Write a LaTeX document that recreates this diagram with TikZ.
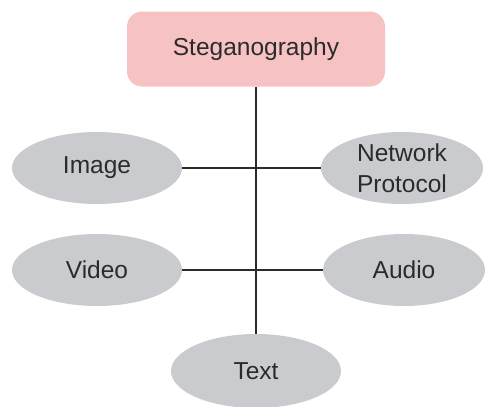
\documentclass[tikz,border=0pt]{standalone}
\usepackage{fontspec}
\setmainfont{Liberation Sans}
\usetikzlibrary{shapes.geometric}
\definecolor{stegpink}{HTML}{F7C2C3}
\definecolor{mediagrey}{HTML}{C9CBCE}
\definecolor{inkgrey}{HTML}{2B2B2B}
\begin{document}
\begin{tikzpicture}[x=1pt, y=-1pt, every node/.style={font=\fontsize{24.5}{31}\selectfont, text=inkgrey},
    medium/.style={ellipse, fill=mediagrey, inner sep=0pt, minimum width=170pt, minimum height=72pt, align=center}]
    \useasboundingbox (0,0) rectangle (485,407);
    \node[fill=stegpink, rounded corners=15pt, minimum width=258pt, minimum height=75pt] (steg) at (256,49) {Steganography};

    \node[medium] (image) at (97,168) {Image};
    \node[medium, minimum width=162pt] (netp) at (402,168) {Network\\Protocol};
    \node[medium] (video) at (97,270) {Video};
    \node[medium, minimum width=162pt] (audio) at (404,270) {Audio};
    \node[medium, minimum height=74pt] (txt) at (256,371) {Text};

    \draw[inkgrey, line width=2pt] (steg.south) -- (txt.north);
    \draw[inkgrey, line width=2pt] (image.east) -- (netp.west);
    \draw[inkgrey, line width=2pt] (video.east) -- (audio.west);
    \end{tikzpicture}
\end{document}
